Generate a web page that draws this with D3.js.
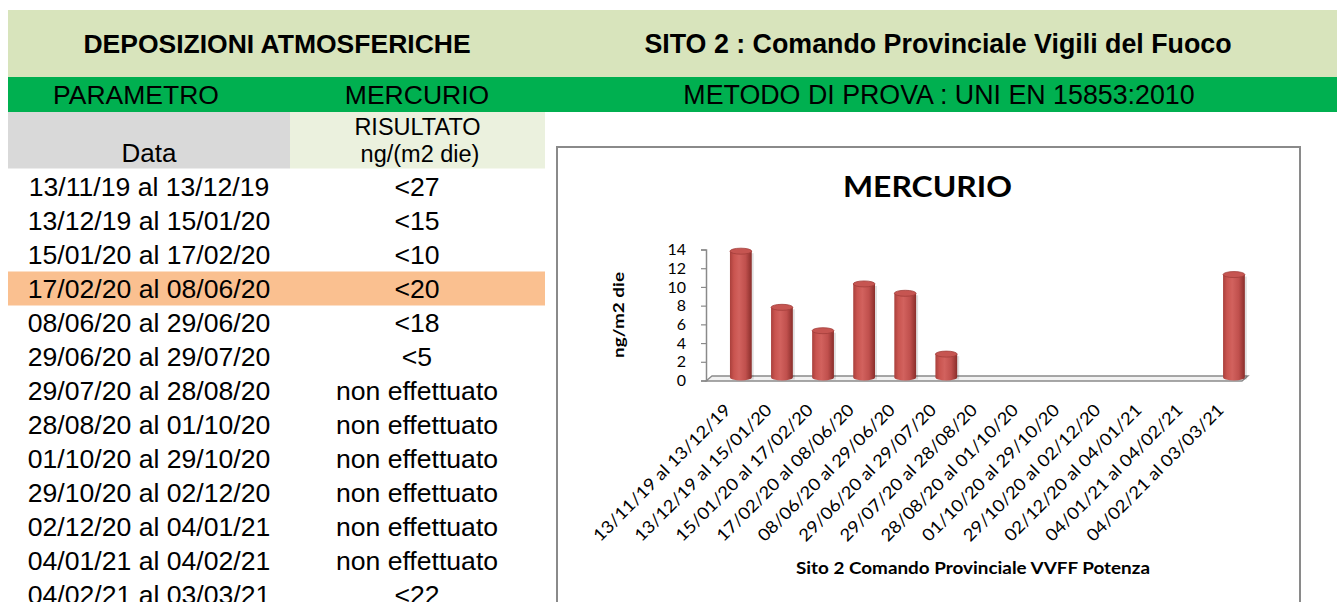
<!DOCTYPE html>
<html>
<head>
<meta charset="utf-8">
<script src="https://cdn.jsdelivr.net/npm/d3@7"></script>
<style>
    body { margin: 0; background: #fff; }
    svg { display: block; }
    .tbl { font-family: "Liberation Sans", Arial, sans-serif; fill: #000; }
    .ch { font-family: Lato, "Open Sans", sans-serif; fill: #000; }
</style>
</head>
<body>
<svg id="sheet" width="1337" height="602"></svg>
<script>
// Periodi di campionamento (righe della tabella e categorie del grafico).
const periods = [
    "13/11/19 al 13/12/19", "13/12/19 al 15/01/20", "15/01/20 al 17/02/20",
    "17/02/20 al 08/06/20", "08/06/20 al 29/06/20", "29/06/20 al 29/07/20",
    "29/07/20 al 28/08/20", "28/08/20 al 01/10/20", "01/10/20 al 29/10/20",
    "29/10/20 al 02/12/20", "02/12/20 al 04/01/21", "04/01/21 al 04/02/21",
    "04/02/21 al 03/03/21"
];
// Risultati come riportati in tabella.
const results = [
    "<27", "<15", "<10", "<20", "<18", "<5",
    "non effettuato", "non effettuato", "non effettuato",
    "non effettuato", "non effettuato", "non effettuato", "<22"
];
// Valori del grafico (ng/m2 die), null = non effettuato.
const values = [13.5, 7.5, 5, 10, 9, 2.5, null, null, null, null, null, null, 11];
const yTicks = [0, 2, 4, 6, 8, 10, 12, 14];
const highlightRow = 3;

const svg = d3.select("#sheet");

/**
 * Tabella
 */
svg.append("rect").attr("x", 8).attr("y", 10).attr("width", 1329).attr("height", 67).attr("fill", "#d8e4bc");
svg.append("rect").attr("x", 8).attr("y", 77).attr("width", 1329).attr("height", 35).attr("fill", "#00b050");
svg.append("rect").attr("x", 8).attr("y", 112).attr("width", 282).attr("height", 56.5).attr("fill", "#d9d9d9");
svg.append("rect").attr("x", 290).attr("y", 112).attr("width", 255).attr("height", 56.5).attr("fill", "#ebf1de");

function label(x, y, txt, size, weight) {
    return svg.append("text")
        .attr("class", "tbl")
        .attr("x", x).attr("y", y)
        .attr("text-anchor", "middle")
        .style("font-size", size + "px")
        .style("font-weight", weight || "normal")
        .text(txt);
}

label(277, 53, "DEPOSIZIONI ATMOSFERICHE", 26.5, "bold");
label(938, 53, "SITO 2 : Comando Provinciale Vigili del Fuoco", 26.8, "bold");
label(136, 103.5, "PARAMETRO", 26.5);
label(417, 103.5, "MERCURIO", 26.5);
label(939, 103.5, "METODO DI PROVA : UNI EN 15853:2010", 26.8);
label(149, 162, "Data", 26);
label(417.5, 135, "RISULTATO", 23.5);
label(420, 162, "ng/(m2 die)", 23.5);

const rowY = function (i) { return 196 + 34 * i; };

svg.append("rect")
    .attr("x", 8).attr("y", rowY(highlightRow) - 26.5)
    .attr("width", 537).attr("height", 34)
    .attr("fill", "#fac090");

const rows = svg.append("g").selectAll("g")
    .data(periods)
    .enter().append("g");

rows.append("text")
    .attr("class", "tbl")
    .attr("x", 149).attr("y", function (d, i) { return rowY(i); })
    .attr("text-anchor", "middle")
    .style("font-size", "26.6px")
    .text(function (d) { return d; });

rows.append("text")
    .attr("class", "tbl")
    .attr("x", 417).attr("y", function (d, i) { return rowY(i); })
    .attr("text-anchor", "middle")
    .style("font-size", "26.6px")
    .text(function (d, i) { return results[i]; });

/**
 * Grafico
 */
svg.append("rect")
    .attr("x", 557).attr("y", 147)
    .attr("width", 743).attr("height", 480)
    .attr("fill", "#fff")
    .attr("stroke", "#8a8a8a").attr("stroke-width", 2);

const defs = svg.append("defs");
const grad = defs.append("linearGradient").attr("id", "cyl");
[["0%", "#a9403c"], ["18%", "#c9544f"], ["42%", "#d2625e"], ["72%", "#c0504d"], ["100%", "#8a2e2b"]]
    .forEach(function (s) {
        grad.append("stop").attr("offset", s[0]).attr("stop-color", s[1]);
    });

var x = d3.scaleBand().domain(periods).range([720.3, 1254.5]),
    y = d3.scaleLinear().domain([0, 14]).range([380.5, 249.5]),
    depth = 3;

// Pavimento 3D.
svg.append("polygon")
    .attr("points", "706,381 712,376 1248,376 1242,381")
    .attr("fill", "#f2f2f2")
    .attr("stroke", "#8a8a8a").attr("stroke-width", 1.3);

// Asse y.
const yAxis = svg.append("g")
    .attr("transform", "translate(706,0)")
    .call(d3.axisLeft(y).tickValues(yTicks).tickSize(5).tickPadding(15));
yAxis.select(".domain").attr("stroke", "#8a8a8a").attr("stroke-width", 1.5);
yAxis.selectAll(".tick line").attr("stroke", "#8a8a8a").attr("stroke-width", 1.2);
yAxis.selectAll(".tick text")
    .attr("class", "ch")
    .style("font-size", "16px")
    .attr("fill", "#000");

// Cilindri.
const bw = x.bandwidth() * 0.53;
const bars = svg.append("g").selectAll("g")
    .data(periods.filter(function (p, i) { return values[i] !== null; }))
    .enter().append("g");

const cx = function (d) { return x(d) + x.bandwidth() / 2; };
const val = function (d) { return values[periods.indexOf(d)]; };

bars.append("rect")
    .attr("x", function (d) { return cx(d) - bw / 2 + 2; })
    .attr("y", function (d) { return y(val(d)) - depth + 2; })
    .attr("width", bw)
    .attr("height", function (d) { return y(0) - y(val(d)); })
    .attr("fill", "#000").attr("opacity", 0.12);

bars.append("ellipse")
    .attr("cx", cx).attr("cy", y(0) - depth)
    .attr("rx", bw / 2).attr("ry", 3)
    .attr("fill", "url(#cyl)");

bars.append("rect")
    .attr("x", function (d) { return cx(d) - bw / 2; })
    .attr("y", function (d) { return y(val(d)) - depth; })
    .attr("width", bw)
    .attr("height", function (d) { return y(0) - y(val(d)); })
    .attr("fill", "url(#cyl)");

bars.append("ellipse")
    .attr("cx", cx)
    .attr("cy", function (d) { return y(val(d)) - depth; })
    .attr("rx", bw / 2).attr("ry", 3)
    .attr("fill", "#c65551")
    .attr("stroke", "#a23d3a").attr("stroke-width", 0.8);

// Etichette asse x.
svg.append("g").selectAll("text")
    .data(periods)
    .enter().append("text")
    .attr("class", "ch")
    .attr("transform", function (d) { return "translate(" + (cx(d) - 9) + ",411) rotate(-45)"; })
    .attr("text-anchor", "end")
    .attr("textLength", 186)
    .attr("lengthAdjust", "spacingAndGlyphs")
    .style("font-size", "17px")
    .text(function (d) { return d; });

// Titoli.
svg.append("text")
    .attr("class", "ch")
    .attr("x", 927.5).attr("y", 197)
    .attr("text-anchor", "middle")
    .attr("textLength", 169).attr("lengthAdjust", "spacingAndGlyphs")
    .style("font-size", "28px").style("font-weight", "bold")
    .text("MERCURIO");

svg.append("text")
    .attr("class", "ch")
    .attr("x", 973).attr("y", 574)
    .attr("text-anchor", "middle")
    .attr("textLength", 354).attr("lengthAdjust", "spacingAndGlyphs")
    .style("font-size", "17px").style("font-weight", "bold")
    .text("Sito 2 Comando Provinciale VVFF Potenza");

svg.append("text")
    .attr("class", "ch")
    .attr("transform", "translate(624,315) rotate(-90)")
    .attr("text-anchor", "middle")
    .attr("textLength", 86).attr("lengthAdjust", "spacingAndGlyphs")
    .style("font-size", "15px").style("font-weight", "bold")
    .text("ng/m2 die");
</script>
</body>
</html>
